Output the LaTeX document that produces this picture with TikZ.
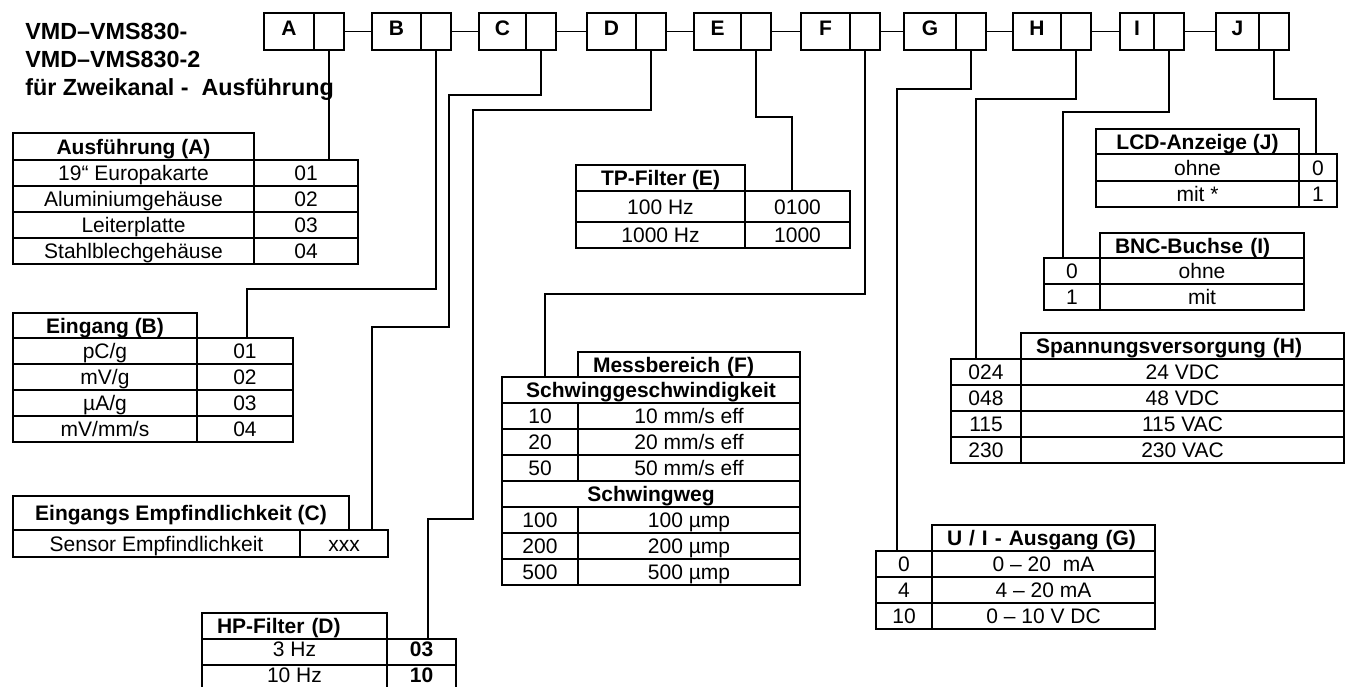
\documentclass[tikz,border=0pt]{standalone}
\usepackage{fontspec}
\setmainfont{Liberation Sans}
\usepackage{tikz}

\newdimen\px \px=0.75pt

\tikzset{
  cell/.style={draw, line width=1.5pt, anchor=north west, inner sep=0pt,
    minimum height=26\px, text height=11.3pt, text depth=0pt,
    font=\fontsize{15.75}{18}\selectfont},
  hd/.style={cell, font=\fontsize{15.75}{18}\selectfont\bfseries},
  hdl/.style={hd, align=left, inner xsep=15\px, text width=#1},
  letterbox/.style={cell, minimum height=37\px, text depth=5pt,
    font=\fontsize{15.75}{18}\selectfont\bfseries},
  codebox/.style={cell, minimum height=37\px},
  link/.style={line width=0.9pt},
  title/.style={anchor=base west, inner sep=0pt,
    font=\fontsize{17.5}{21}\selectfont\bfseries},
}

\begin{document}
\begin{tikzpicture}[x=0.75pt, y=-0.75pt]

    \fill[white, use as bounding box] (0,0) rectangle (1349,686);

    \node[title] (title1) at (25,39) {VMD–VMS830-};
    \node[title] (title2) at (25,67) {VMD–VMS830-2};
    \node[title] (title3) at (25,95) {für Zweikanal -~ Ausführung};

    % order code boxes
    \foreach \n/\l/\d/\r in {A/263/313/343, B/371/420/450, C/478/525/555, D/586/635/665,
                             E/693/740/770, F/800/849/879, G/903/955/985, H/1012/1060/1090,
                             I/1119/1153/1183, J/1215/1258/1288}{
      \node[letterbox, minimum width={(\d-\l)*\px}] (box\n) at (\l,12) {\n};
      \node[codebox, minimum width={(\r-\d)*\px}] (code\n) at (\d,12) {};
    }
    \foreach \a/\b in {A/B, B/C, C/D, D/E, E/F, F/G, G/H, H/I, I/J}
      \draw[link] (code\a.east) -- (box\b.west);

    % Ausfuehrung (A)
    \node[hd, minimum width=241\px, minimum height=27\px] (headA) at (12,132) {Ausführung (A)};
    \foreach \t/\c [count=\i] in {19“ Europakarte/01, Aluminiumgehäuse/02, Leiterplatte/03, Stahlblechgehäuse/04}{
      \node[cell, minimum width=241\px] (textA\i) at (12,133+26*\i) {\t};
      \node[cell, minimum width=104\px] (valA\i) at (253,133+26*\i) {\c};
    }

    % Eingang (B)
    \node[hd, minimum width=184\px, minimum height=25\px] (headB) at (12,312) {Eingang (B)};
    \foreach \t/\c [count=\i] in {{pC/g}/01, {mV/g}/02, {µA/g}/03, {mV/mm/s}/04}{
      \node[cell, minimum width=184\px] (textB\i) at (12,311+26*\i) {\t};
      \node[cell, minimum width=96\px] (valB\i) at (196,311+26*\i) {\c};
    }

    % Eingangs Empfindlichkeit (C)
    \node[hd, minimum width=336\px, minimum height=34\px] (headC) at (12,495) {Eingangs Empfindlichkeit (C)};
    \node[cell, minimum width=287\px, minimum height=27\px] (textC) at (12,529) {Sensor Empfindlichkeit};
    \node[cell, minimum width=88\px, minimum height=27\px] (valC) at (299,529) {xxx};

    % HP-Filter (D)
    \node[hdl=155\px] (headD) at (201,612) {HP-Filter (D)};
    \foreach \t/\c [count=\i] in {3 Hz/03, 10 Hz/10}{
      \node[cell, minimum width=185\px, text depth=5pt] (textD\i) at (201,612+26*\i) {\t};
      \node[hd, minimum width=69\px, text depth=5pt] (valD\i) at (386,612+26*\i) {\c};
    }

    % TP-Filter (E)
    \node[hd, minimum width=169\px] (headE) at (575,164) {TP-Filter (E)};
    \node[cell, minimum width=169\px, minimum height=31\px] (textE1) at (575,190) {100 Hz};
    \node[cell, minimum width=105\px, minimum height=31\px] (valE1) at (744,190) {0100};
    \node[cell, minimum width=169\px] (textE2) at (575,221) {1000 Hz};
    \node[cell, minimum width=105\px] (valE2) at (744,221) {1000};

    % Messbereich (F)
    \node[hdl=192\px, minimum height=25\px] (headF) at (577,351) {Messbereich (F)};
    \node[hd, minimum width=298\px] (speedF) at (501,376) {Schwinggeschwindigkeit};
    \foreach \c/\t [count=\i] in {10/{10 mm/s eff}, 20/{20 mm/s eff}, 50/{50 mm/s eff}}{
      \node[cell, minimum width=76\px] (valF\i) at (501,376+26*\i) {\c};
      \node[cell, minimum width=222\px] (textF\i) at (577,376+26*\i) {\t};
    }
    \node[hd, minimum width=298\px] (travelF) at (501,480) {Schwingweg};
    \foreach \c/\t [count=\i from 4] in {100/100 µmp, 200/200 µmp, 500/500 µmp}{
      \node[cell, minimum width=76\px] (valF\i) at (501,402+26*\i) {\c};
      \node[cell, minimum width=222\px] (textF\i) at (577,402+26*\i) {\t};
    }

    % U / I - Ausgang (G)
    \node[hdl=193\px] (headG) at (931,524) {U / I - Ausgang (G)};
    \foreach \c/\t [count=\i] in {0/0 – 20~ mA, 4/4 – 20 mA, 10/0 – 10 V DC}{
      \node[cell, minimum width=56\px] (valG\i) at (875,524+26*\i) {\c};
      \node[cell, minimum width=223\px] (textG\i) at (931,524+26*\i) {\t};
    }

    % Spannungsversorgung (H)
    \node[hdl=293\px] (headH) at (1020,332) {Spannungsversorgung (H)};
    \foreach \c/\t [count=\i] in {024/24 VDC, 048/48 VDC, 115/115 VAC, 230/230 VAC}{
      \node[cell, minimum width=70\px] (valH\i) at (950,332+26*\i) {\c};
      \node[cell, minimum width=323\px] (textH\i) at (1020,332+26*\i) {\t};
    }

    % BNC-Buchse (I)
    \node[hdl=174\px, minimum height=25\px] (headI) at (1099,232) {BNC-Buchse (I)};
    \foreach \c/\t [count=\i] in {0/ohne, 1/mit}{
      \node[cell, minimum width=56\px] (valI\i) at (1043,231+26*\i) {\c};
      \node[cell, minimum width=204\px] (textI\i) at (1099,231+26*\i) {\t};
    }

    % LCD-Anzeige (J)
    \node[hd, minimum width=203\px, minimum height=25\px] (headJ) at (1095,128) {LCD-Anzeige (J)};
    \node[cell, minimum width=203\px, minimum height=27\px] (textJ1) at (1095,153) {ohne};
    \node[cell, minimum width=38\px, minimum height=27\px] (valJ1) at (1298,153) {0};
    \node[cell, minimum width=203\px] (textJ2) at (1095,180) {mit *};
    \node[cell, minimum width=38\px] (valJ2) at (1298,180) {1};

    % leader lines
    \coordinate (bendB)  at (247,289);
    \coordinate (bendC1) at (449,95);
    \coordinate (bendC2) at (372,327);
    \coordinate (bendD1) at (473,110);
    \coordinate (bendD2) at (428,519);
    \coordinate (bendE)  at (792,117);
    \coordinate (bendF)  at (545,294);
    \coordinate (bendG)  at (897,89);
    \coordinate (bendH)  at (976,99);
    \coordinate (bendI)  at (1063,112);
    \coordinate (bendJ)  at (1316,99);

    \draw[link] (codeA.south) -- (codeA.south |- valA1.north);
    \draw[link] (codeB.south) |- (bendB) -- (bendB |- valB1.north);
    \draw[link] (codeC.south) |- (bendC1) |- (bendC2) -- (bendC2 |- valC.north);
    \draw[link] (codeD.south) |- (bendD1) |- (bendD2) -- (bendD2 |- valD1.north);
    \draw[link] (codeE.south) |- (bendE) -- (bendE |- valE1.north);
    \draw[link] (codeF.south) |- (bendF) -- (bendF |- speedF.north);
    \draw[link] (codeG.south) |- (bendG) -- (bendG |- valG1.north);
    \draw[link] (codeH.south) |- (bendH) -- (bendH |- valH1.north);
    \draw[link] (codeI.south) |- (bendI) -- (bendI |- valI1.north);
    \draw[link] (codeJ.south) |- (bendJ) -- (bendJ |- valJ1.north);

\end{tikzpicture}
\end{document}
